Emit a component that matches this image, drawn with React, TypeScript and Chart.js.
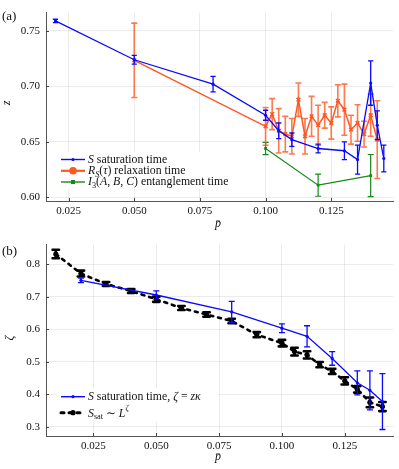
import React, { useEffect, useRef } from 'react';
import { Chart, registerables } from 'chart.js';

Chart.register(...registerables);

const FONT = '"Liberation Serif", "DejaVu Serif", serif';
const BLUE = '#0a0aff';
const ORANGE = '#ff5722';
const GREEN = '#15891a';
const BLACK = '#000000';

// ---------- Panel (a) ----------
const aXTicks = [0.025, 0.05, 0.075, 0.1, 0.125];
const aYTicks = [0.6, 0.65, 0.7, 0.75];

const satP = [0.02, 0.05, 0.08, 0.1, 0.105, 0.11, 0.12, 0.13, 0.135, 0.14, 0.1425, 0.145];
const satZ = [0.759, 0.724, 0.702, 0.674, 0.66, 0.652, 0.644, 0.642, 0.634, 0.703, 0.665, 0.635];
const satErr = [0.0015, 0.004, 0.007, 0.0045, 0.007, 0.006, 0.004, 0.008, 0.013, 0.02, 0.013, 0.012];

const relP = [0.05, 0.1, 0.1025, 0.105, 0.1075, 0.11, 0.1125, 0.115, 0.1175, 0.12, 0.1225, 0.125, 0.1275, 0.13, 0.1325, 0.135, 0.1375, 0.14, 0.1425];
const relZ = [0.7235, 0.664, 0.675, 0.66, 0.657, 0.655, 0.688, 0.655, 0.673, 0.665, 0.674, 0.667, 0.687, 0.679, 0.661, 0.667, 0.657, 0.674, 0.652];
const relErr = [0.0335, 0.017, 0.014, 0.02, 0.016, 0.016, 0.015, 0.016, 0.018, 0.018, 0.0116, 0.0145, 0.0145, 0.023, 0.013, 0.0165, 0.0116, 0.019, 0.035];

const entP = [0.1, 0.12, 0.14];
const entZ = [0.644, 0.611, 0.6196];
const entErr = [0.0055, 0.01, 0.019];

// ---------- Panel (b) ----------
const bXTicks = [0.025, 0.05, 0.075, 0.1, 0.125];
const bYTicks = [0.3, 0.4, 0.5, 0.6, 0.7, 0.8];

const zetaSatP = [0.02, 0.05, 0.08, 0.1, 0.11, 0.12, 0.13, 0.135, 0.14];
const zetaSatV = [0.75, 0.705, 0.653, 0.603, 0.578, 0.51, 0.435, 0.412, 0.3775];
const zetaSatErr = [0.007, 0.0125, 0.0325, 0.0135, 0.0325, 0.021, 0.037, 0.06, 0.086];

const scaleP = [0.01, 0.02, 0.03, 0.04, 0.05, 0.06, 0.07, 0.08, 0.09, 0.1, 0.105, 0.11, 0.115, 0.12, 0.125, 0.13, 0.135, 0.14];
const scaleV = [0.831, 0.771, 0.739, 0.717, 0.692, 0.665, 0.645, 0.625, 0.583, 0.557, 0.531, 0.521, 0.491, 0.47, 0.441, 0.415, 0.375, 0.362];
const scaleErr = [0.013, 0.009, 0.006, 0.006, 0.008, 0.006, 0.007, 0.007, 0.008, 0.01, 0.012, 0.011, 0.008, 0.008, 0.011, 0.01, 0.015, 0.014];

type Seg = { t: string; it?: boolean; sub?: boolean; sup?: boolean };

function drawRich(ctx: CanvasRenderingContext2D, segs: Seg[], x: number, y: number, size: number) {
  let cx = x;
  ctx.textAlign = 'left';
  ctx.textBaseline = 'middle';
  for (const s of segs) {
    const sz = s.sub || s.sup ? size * 0.7 : size;
    ctx.font = `${s.it ? 'italic ' : ''}${sz}px ${FONT}`;
    const dy = s.sub ? size * 0.3 : s.sup ? -size * 0.4 : 0;
    ctx.fillText(s.t, cx, y + dy);
    cx += ctx.measureText(s.t).width;
  }
}

const pts = (xs: number[], ys: number[]) => xs.map((x, i) => ({ x, y: ys[i] }));

const errorBarPlugin = {
  id: 'errbars',
  beforeDatasetDraw(chart: any, args: any) {
    const ds: any = chart.data.datasets[args.index];
    const eb = ds.errorBars;
    if (!eb) return;
    const xs = chart.scales.x;
    const ys = chart.scales.y;
    const ctx: CanvasRenderingContext2D = chart.ctx;
    ctx.save();
    ctx.strokeStyle = eb.color;
    ctx.lineWidth = eb.width;
    ctx.lineCap = eb.lineCap || 'butt';
    ds.data.forEach((pt: any, i: number) => {
      const e = eb.err[i];
      const x = xs.getPixelForValue(pt.x);
      const y1 = ys.getPixelForValue(pt.y - e);
      const y2 = ys.getPixelForValue(pt.y + e);
      ctx.beginPath();
      ctx.moveTo(x, y1);
      ctx.lineTo(x, y2);
      ctx.moveTo(x - eb.capW, y1);
      ctx.lineTo(x + eb.capW, y1);
      ctx.moveTo(x - eb.capW, y2);
      ctx.lineTo(x + eb.capW, y2);
      ctx.stroke();
    });
    ctx.restore();
  },
};

function innerTicks(chart: any) {
  const ctx: CanvasRenderingContext2D = chart.ctx;
  const ca = chart.chartArea;
  const xs = chart.scales.x;
  const ys = chart.scales.y;
  ctx.save();
  ctx.strokeStyle = '#444';
  ctx.lineWidth = 1;
  ctx.beginPath();
  xs.ticks.forEach((t: any) => {
    const x = Math.round(xs.getPixelForValue(t.value)) + 0.5;
    ctx.moveTo(x, ca.bottom);
    ctx.lineTo(x, ca.bottom - 3);
  });
  ys.ticks.forEach((t: any) => {
    const y = Math.round(ys.getPixelForValue(t.value)) + 0.5;
    ctx.moveTo(ca.left, y);
    ctx.lineTo(ca.left + 3, y);
  });
  ctx.stroke();
  ctx.restore();
}

function makeScales(min: number, max: number, ymin: number, ymax: number, xt: number[], yt: number[], xDec: number, yDec: number, xh: number) {
  const grid = { color: 'rgba(0,0,0,0.08)', drawTicks: false, lineWidth: 1 };
  const border = { display: true, color: '#555', width: 1 };
  return {
    x: {
      type: 'linear',
      min,
      max,
      afterBuildTicks: (s: any) => {
        s.ticks = xt.map((v) => ({ value: v }));
      },
      afterFit: (s: any) => {
        s.height = xh;
      },
      ticks: {
        callback: (v: any) => Number(v).toFixed(xDec),
        font: { family: FONT, size: 11 },
        color: '#111',
        padding: 4,
        maxRotation: 0,
        autoSkip: false,
      },
      grid,
      border,
    },
    y: {
      type: 'linear',
      min: ymin,
      max: ymax,
      afterBuildTicks: (s: any) => {
        s.ticks = yt.map((v) => ({ value: v }));
      },
      afterFit: (s: any) => {
        s.width = 46;
      },
      ticks: {
        callback: (v: any) => Number(v).toFixed(yDec),
        font: { family: FONT, size: 11 },
        color: '#111',
        padding: 6,
        autoSkip: false,
      },
      grid,
      border,
    },
  };
}

function legendLine(ctx: CanvasRenderingContext2D, y: number, color: string, width: number, dash: number[] | null, marker: (cx: number, cy: number) => void) {
  ctx.save();
  ctx.strokeStyle = color;
  ctx.lineWidth = width;
  if (dash) {
    ctx.setLineDash(dash);
    ctx.lineCap = 'round';
  }
  ctx.beginPath();
  ctx.moveTo(61, y);
  ctx.lineTo(85, y);
  ctx.stroke();
  ctx.setLineDash([]);
  ctx.fillStyle = color;
  marker(73, y);
  ctx.restore();
}

const LEG = 11.8;

const decoA = {
  id: 'decoA',
  afterDraw(chart: any) {
    const ctx: CanvasRenderingContext2D = chart.ctx;
    innerTicks(chart);
    ctx.save();
    ctx.fillStyle = '#fff';
    ctx.fillRect(57, 152, 180, 37);
    legendLine(ctx, 159.5, BLUE, 1.4, null, (cx, cy) => {
      ctx.beginPath();
      ctx.arc(cx, cy, 1.6, 0, Math.PI * 2);
      ctx.fill();
    });
    legendLine(ctx, 170.8, ORANGE, 2.2, null, (cx, cy) => {
      ctx.beginPath();
      ctx.arc(cx, cy, 3.8, 0, Math.PI * 2);
      ctx.fill();
    });
    legendLine(ctx, 182, GREEN, 1.4, null, (cx, cy) => {
      ctx.fillRect(cx - 2, cy - 2, 4, 4);
    });
    ctx.fillStyle = '#111';
    drawRich(ctx, [{ t: 'S', it: true }, { t: ' saturation time' }], 88, 159.5, LEG);
    drawRich(ctx, [{ t: 'R', it: true }, { t: 'S', it: true, sub: true }, { t: '(' }, { t: 'τ', it: true }, { t: ') relaxation time' }], 88, 170.8, LEG);
    drawRich(ctx, [{ t: 'I', it: true }, { t: '3', sub: true }, { t: '(' }, { t: 'A', it: true }, { t: ', ' }, { t: 'B', it: true }, { t: ', ' }, { t: 'C', it: true }, { t: ') entanglement time' }], 88, 182, LEG);
    // titles
    ctx.textBaseline = 'middle';
    ctx.font = `13px ${FONT}`;
    ctx.textAlign = 'left';
    ctx.fillText('(a)', 2, 17);
    ctx.textAlign = 'center';
    ctx.font = `italic 12px ${FONT}`;
    ctx.fillText('p̄', 218, 224);
    ctx.save();
    ctx.translate(7, 103);
    ctx.rotate(-Math.PI / 2);
    ctx.fillText('z', 0, 0);
    ctx.restore();
    ctx.restore();
  },
};

const decoB = {
  id: 'decoB',
  afterDraw(chart: any) {
    const ctx: CanvasRenderingContext2D = chart.ctx;
    innerTicks(chart);
    ctx.save();
    ctx.fillStyle = '#fff';
    ctx.fillRect(57, 156, 162, 34);
    legendLine(ctx, 164.7, BLUE, 1.4, null, (cx, cy) => {
      ctx.beginPath();
      ctx.arc(cx, cy, 1.6, 0, Math.PI * 2);
      ctx.fill();
    });
    legendLine(ctx, 180.7, BLACK, 3, [3, 5], (cx, cy) => {
      ctx.beginPath();
      ctx.arc(cx, cy, 2.6, 0, Math.PI * 2);
      ctx.fill();
    });
    ctx.fillStyle = '#111';
    drawRich(ctx, [{ t: 'S', it: true }, { t: ' saturation time, ' }, { t: 'ζ', it: true }, { t: ' = ' }, { t: 'z', it: true }, { t: 'κ', it: true }], 88, 164.7, LEG);
    drawRich(ctx, [{ t: 'S', it: true }, { t: 'sat', sub: true }, { t: ' ∼ ' }, { t: 'L', it: true }, { t: 'ζ', it: true, sup: true }], 88, 181.5, LEG);
    ctx.font = `13px ${FONT}`;
    ctx.textAlign = 'left';
    ctx.textBaseline = 'middle';
    ctx.fillText('(b)', 2, 20);
    ctx.textAlign = 'center';
    ctx.font = `italic 12px ${FONT}`;
    ctx.fillText('p̄', 218, 225);
    ctx.save();
    ctx.translate(10, 106);
    ctx.rotate(-Math.PI / 2);
    ctx.fillText('ζ', 0, 0);
    ctx.restore();
    ctx.restore();
  },
};

function configA(): any {
  return {
    type: 'line',
    data: {
      datasets: [
        {
          label: 'S saturation time',
          data: pts(satP, satZ),
          borderColor: BLUE,
          borderWidth: 1.3,
          pointRadius: 1.6,
          pointBackgroundColor: BLUE,
          pointBorderWidth: 0,
          errorBars: { err: satErr, color: BLUE, width: 1.3, capW: 2.6 },
        },
        {
          label: 'R_S(τ) relaxation time',
          data: pts(relP, relZ),
          borderColor: ORANGE,
          borderWidth: 1.5,
          pointStyle: 'crossRot',
          pointRadius: 2.6,
          pointBorderColor: ORANGE,
          pointBorderWidth: 1.6,
          errorBars: { err: relErr, color: 'rgba(255,87,34,0.8)', width: 1.6, capW: 3 },
        },
        {
          label: 'I_3(A,B,C) entanglement time',
          data: pts(entP, entZ),
          borderColor: GREEN,
          borderWidth: 1.2,
          pointStyle: 'rect',
          pointRadius: 2,
          pointBackgroundColor: GREEN,
          pointBorderWidth: 0,
          errorBars: { err: entErr, color: GREEN, width: 1.2, capW: 3 },
        },
      ],
    },
    options: {
      responsive: false,
      animation: false,
      devicePixelRatio: 1,
      layout: { padding: { left: 0, right: 6, top: 5, bottom: 0 } },
      elements: { line: { tension: 0, fill: false } },
      plugins: { legend: { display: false }, tooltip: { enabled: false } },
      scales: makeScales(0.0164, 0.1485, 0.5967, 0.7665, aXTicks, aYTicks, 3, 2, 31),
    },
    plugins: [errorBarPlugin, decoA],
  };
}

function configB(): any {
  return {
    type: 'line',
    data: {
      datasets: [
        {
          label: 'S saturation time, ζ = zκ',
          data: pts(zetaSatP, zetaSatV),
          borderColor: BLUE,
          borderWidth: 1.3,
          pointRadius: 1.6,
          pointBackgroundColor: BLUE,
          pointBorderWidth: 0,
          errorBars: { err: zetaSatErr, color: BLUE, width: 1.3, capW: 3 },
        },
        {
          label: 'S_sat ~ L^ζ',
          data: pts(scaleP, scaleV),
          borderColor: BLACK,
          borderWidth: 2.6,
          borderDash: [3, 5],
          borderCapStyle: 'round',
          pointRadius: 2.6,
          pointBackgroundColor: BLACK,
          pointBorderWidth: 0,
          errorBars: { err: scaleErr, color: BLACK, width: 2.6, capW: 3.2, lineCap: 'round' },
        },
      ],
    },
    options: {
      responsive: false,
      animation: false,
      devicePixelRatio: 1,
      layout: { padding: { left: 0, right: 6, top: 8, bottom: 0 } },
      elements: { line: { tension: 0, fill: false } },
      plugins: { legend: { display: false }, tooltip: { enabled: false } },
      scales: makeScales(0.0061, 0.1442, 0.2715, 0.86, bXTicks, bYTicks, 3, 1, 33),
    },
    plugins: [errorBarPlugin, decoB],
  };
}

export default function App() {
  const refA = useRef<HTMLCanvasElement>(null);
  const refB = useRef<HTMLCanvasElement>(null);
  useEffect(() => {
    const a = new Chart(refA.current as HTMLCanvasElement, configA());
    const b = new Chart(refB.current as HTMLCanvasElement, configB());
    return () => {
      a.destroy();
      b.destroy();
    };
  }, []);
  return (
    <div style={{ position: 'absolute', left: 0, top: 0, width: 399, height: 469, background: '#fff' }}>
      <canvas ref={refA} width={399} height={232} style={{ display: 'block', width: 399, height: 232 }} />
      <canvas ref={refB} width={399} height={237} style={{ display: 'block', width: 399, height: 237 }} />
    </div>
  );
}
